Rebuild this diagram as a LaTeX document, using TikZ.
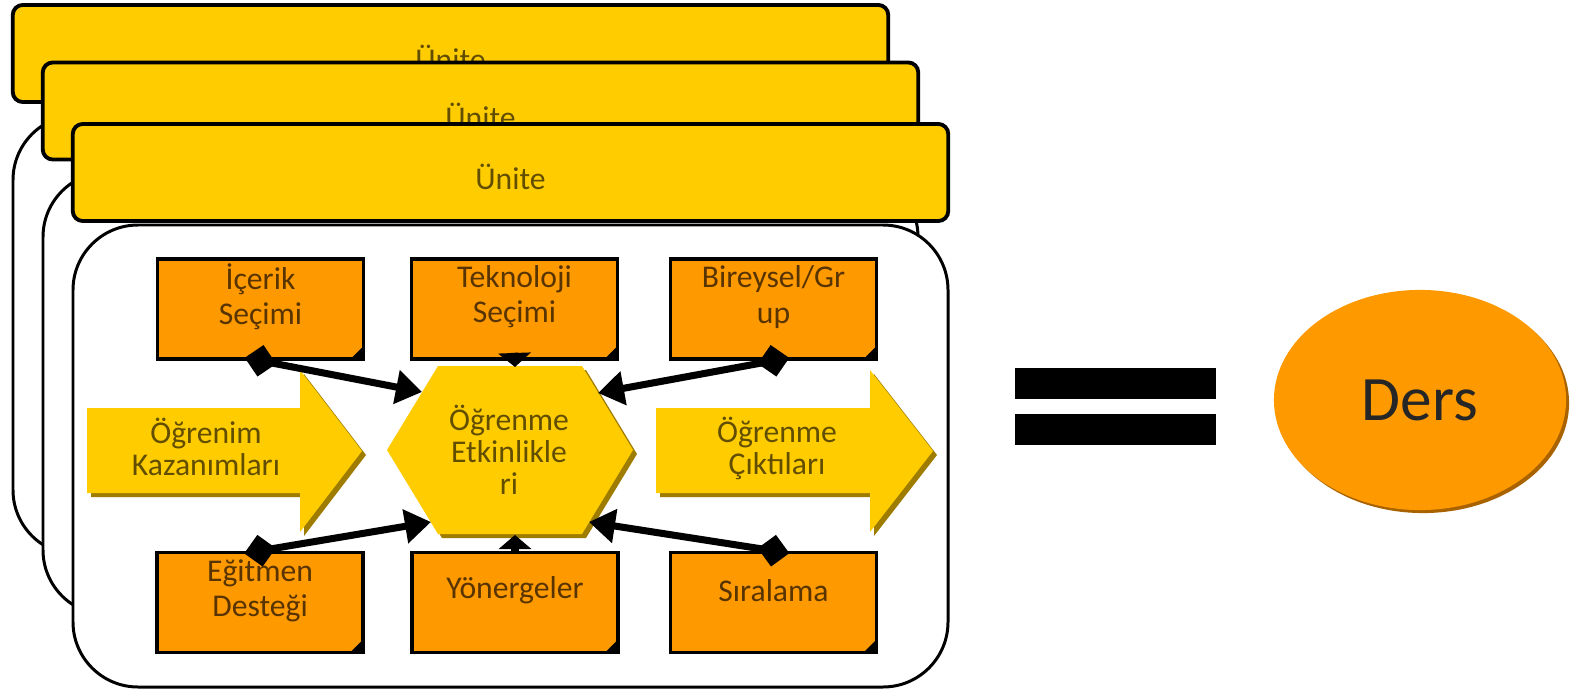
\documentclass[tikz,border=0pt]{standalone}
\usepackage{fontspec}
\setmainfont{Carlito}
\usepackage{xcolor}
\usetikzlibrary{arrows.meta,positioning,shadows,shapes.geometric}
\definecolor{uniteyellow}{RGB}{255,204,0}
\definecolor{boxorange}{RGB}{255,153,0}
\definecolor{yshadow}{RGB}{158,124,0}
\definecolor{oshadow}{RGB}{168,98,0}
\definecolor{browntext}{RGB}{88,52,0}
\definecolor{olivetext}{RGB}{98,78,0}
\tikzset{%
	panel/.style       = {draw, fill=white, line width=0.85pt, rounded corners=6.5mm},
	header/.style      = {draw, fill=uniteyellow, line width=1.1pt, rounded corners=1mm, minimum width=8.75cm, minimum height=0.97cm, text height=3.4mm, text depth=0pt, text=olivetext, font=\fontsize{9}{10}\selectfont},
	yellowshape/.style = {fill=uniteyellow, drop shadow={fill=yshadow, opacity=1, shadow xshift=0.4mm, shadow yshift=-0.4mm}},
	yellowtext/.style  = {align=center, text=olivetext, font=\fontsize{9}{9.1}\selectfont},
	notebox/.style     = {draw, fill=boxorange, line width=1pt, minimum width=2.06cm, minimum height=1cm, inner sep=0pt,
	                      path picture={\fill[black] (path picture bounding box.south east) -- ++(-1.3mm,0) -- ++(1.3mm,1.3mm) -- cycle;}},
	notetext/.style    = {align=center, text=browntext, font=\fontsize{9}{10}\selectfont, yshift=1.2mm},
	link/.style        = {line width=2pt, shorten <=-1.6mm, {Diamond[length=3.2mm,width=3.2mm]}-{Triangle[length=2.6mm,width=3.3mm]}},
	stub/.style        = {line width=2pt, -{Triangle[length=1.4mm,width=3.2mm]}},
	dersnode/.style    = {ellipse, fill=boxorange, minimum width=2.92cm, minimum height=2.2cm, text=black!85, font=\fontsize{18}{20}\selectfont,
	                      drop shadow={fill=oshadow, opacity=1, shadow xshift=0.3mm, shadow yshift=-0.3mm}},
}
\begin{document}
\begin{tikzpicture}[x=0.01cm,y=-0.01cm]
	\useasboundingbox (0,0) rectangle (1570,691);
	
	% stacked units
	\draw[panel] (13,115) rectangle (888,555);
	\node[header] (unite1) at (450.5,53.5) {Ünite};
	\draw[panel] (43,172) rectangle (918,615);
	\node[header] (unite2) at (480.5,111) {Ünite};
	\draw[panel] (73,225) rectangle (948,687);
	\node[header] (unite3) at (510.5,172.5) {Ünite};
	
	% outcomes in, outcomes out
	\path[yellowshape] (87,408) -- (300,408) -- (300,370) -- (362,451) -- (300,532) -- (300,493) -- (87,493) -- cycle;
	\node[yellowtext] (kazanim) at (206,447) {Öğrenim\\Kazanımları};
	\path[yellowshape] (656,408) -- (870,408) -- (870,370) -- (933,451) -- (870,532) -- (870,493) -- (656,493) -- cycle;
	\node[yellowtext] (cikti) at (777,448) {Öğrenme\\Çıktıları};
	
	% learning activities
	\path[yellowshape] (387,450) -- (438,366) -- (582,366) -- (633,450) -- (582,534) -- (438,534) -- cycle;
	\node[yellowtext] (etkinlik) at (509,450) {Öğrenme\\Etkinlikle\\ri};
	\coordinate (hxul) at (422,392);
	\coordinate (hxur) at (598,393);
	\coordinate (hxll) at (431,522);
	\coordinate (hxlr) at (589,522);
	\coordinate (hxt) at (515,367);
	\coordinate (hxb) at (515,535);
	
	% design elements
	\node[notebox, label={[notetext]center:{İçerik\\Seçimi}}] (icerik) at (260.5,309) {};
	\node[notebox, label={[notetext]center:{Teknoloji\\Seçimi}}] (teknoloji) at (514.5,309) {};
	\node[notebox, label={[notetext]center:{Bireysel/Gr\\up}}] (bireysel) at (773.5,309) {};
	\node[notebox, label={[notetext]center:{Eğitmen\\Desteği}}] (egitmen) at (260,602.5) {};
	\node[notebox, label={[notetext]center:Yönergeler}] (yonerge) at (515,602.5) {};
	\node[notebox, label={[notetext]center:Sıralama}] (siralama) at (773.5,602.5) {};
	
	\draw[link] (icerik.south) -- (hxul);
	\draw[link] (bireysel.south) -- (hxur);
	\draw[link] (egitmen.north) -- (hxll);
	\draw[link] (siralama.north) -- (hxlr);
	\draw[stub] ([yshift=0.8mm]teknoloji.south) -- (hxt);
	\draw[stub] (yonerge.north) -- (hxb);
	
	% equals
	\fill (1015,368) rectangle (1216,399);
	\fill (1015,414) rectangle (1216,445);
	\node[dersnode] (ders) at (1420,400) {Ders};
\end{tikzpicture}
\end{document}
